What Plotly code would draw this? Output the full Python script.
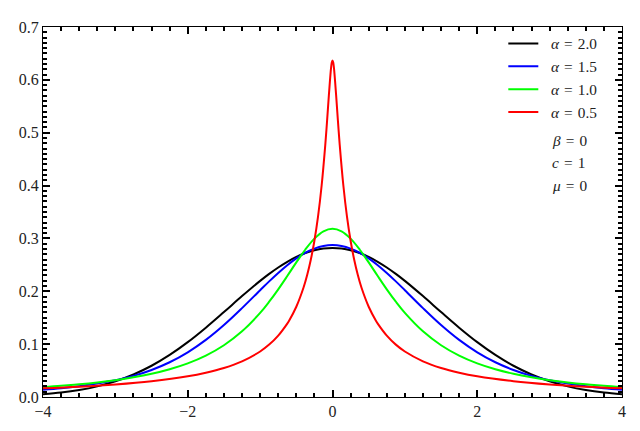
import plotly.graph_objects as go

# Symmetric alpha-stable densities (beta=0, c=1, mu=0)
x_grid = [-4.0, -3.75, -3.5, -3.25, -3.0, -2.75, -2.5, -2.25, -2.0, -1.75, -1.5, -1.25,
          -1.0, -0.875, -0.75, -0.625, -0.5, -0.375, -0.25, -0.125, 0.0, 0.125, 0.25,
          0.375, 0.5, 0.625, 0.75, 0.875, 1.0, 1.25, 1.5, 1.75, 2.0, 2.25, 2.5, 2.75,
          3.0, 3.25, 3.5, 3.75, 4.0]

pdf_a20 = [0.00517, 0.00839, 0.01319, 0.02012, 0.02973, 0.04259, 0.05913, 0.07957, 0.10378,
           0.13118, 0.16073, 0.19087, 0.21969, 0.23295, 0.24508, 0.25584, 0.26500, 0.27234,
           0.27772, 0.28099, 0.28209, 0.28099, 0.27772, 0.27234, 0.26500, 0.25584, 0.24508,
           0.23295, 0.21969, 0.19087, 0.16073, 0.13118, 0.10378, 0.07957, 0.05913, 0.04259,
           0.02973, 0.02012, 0.01319, 0.00839, 0.00517]

pdf_a15 = [0.0138, 0.0167, 0.0205, 0.0255, 0.0318, 0.03997, 0.05115, 0.06577, 0.08454,
           0.10799, 0.13614, 0.16814, 0.20204, 0.21877, 0.23473, 0.24941, 0.26230, 0.27291,
           0.28082, 0.28570, 0.28735, 0.28570, 0.28082, 0.27291, 0.26230, 0.24941, 0.23473,
           0.21877, 0.20204, 0.16814, 0.13614, 0.10799, 0.08454, 0.06577, 0.05115, 0.03997,
           0.0318, 0.0255, 0.0205, 0.0167, 0.0138]

pdf_a10 = [0.01872, 0.02113, 0.02402, 0.02753, 0.03183, 0.03718, 0.04390, 0.05251, 0.06366,
           0.07835, 0.09794, 0.12422, 0.15915, 0.18028, 0.20372, 0.22890, 0.25465, 0.27906,
           0.29959, 0.31341, 0.31831, 0.31341, 0.29959, 0.27906, 0.25465, 0.22890, 0.20372,
           0.18028, 0.15915, 0.12422, 0.09794, 0.07835, 0.06366, 0.05251, 0.04390, 0.03718,
           0.03183, 0.02753, 0.02402, 0.02113, 0.01872]

# alpha = 0.5 needs a finer grid around the sharp peak
x_a05 = [-4.0, -3.5, -3.0, -2.5, -2.0, -1.75, -1.5, -1.25, -1.0, -0.875, -0.75, -0.625,
         -0.6, -0.5, -0.4, -0.35, -0.3, -0.25, -0.2, -0.15, -0.1, -0.075, -0.05, -0.02,
         -0.01, 0.0, 0.01, 0.02, 0.05, 0.075, 0.1, 0.15, 0.2, 0.25, 0.3, 0.35, 0.4, 0.5,
         0.6, 0.625, 0.75, 0.875, 1.0, 1.25, 1.5, 1.75, 2.0, 2.5, 3.0, 3.5, 4.0]
pdf_a05 = [0.0165, 0.0196, 0.0238, 0.0299, 0.0391, 0.0459, 0.0549, 0.0675, 0.0861, 0.0991,
           0.1161, 0.1388, 0.1443, 0.1708, 0.2071, 0.2308, 0.2597, 0.2956, 0.3413, 0.4001,
           0.4766, 0.5223, 0.5711, 0.6226, 0.6329, 0.6366, 0.6329, 0.6226, 0.5711, 0.5223,
           0.4766, 0.4001, 0.3413, 0.2956, 0.2597, 0.2308, 0.2071, 0.1708, 0.1443, 0.1388,
           0.1161, 0.0991, 0.0861, 0.0675, 0.0549, 0.0459, 0.0391, 0.0299, 0.0238, 0.0196,
           0.0165]

sp = "\u2004"  # math-style spacing around '='
lead = "\u2002"  # extra gap between line sample and label
series = [
    (f"{lead}<i>α</i>{sp}={sp}2.0", x_grid, pdf_a20, "black"),
    (f"{lead}<i>α</i>{sp}={sp}1.5", x_grid, pdf_a15, "blue"),
    (f"{lead}<i>α</i>{sp}={sp}1.0", x_grid, pdf_a10, "#00ff00"),
    (f"{lead}<i>α</i>{sp}={sp}0.5", x_a05, pdf_a05, "red"),
]
param_labels = [f"<i>β</i>{sp}={sp}0", f"<i>c</i>{sp}={sp}1", f"<i>μ</i>{sp}={sp}0"]

FONT = "Liberation Serif"

fig = go.Figure()
for name, xs, ys, color in series:
    fig.add_trace(go.Scatter(
        x=xs, y=ys, mode="lines", name=name,
        line=dict(color=color, width=2, shape="spline", smoothing=1),
    ))

# parameter notes continue the legend column as plain text
for i, label in enumerate(param_labels):
    fig.add_annotation(
        text=label, xref="paper", yref="paper", x=0.876, y=0.693 - 0.0605 * i,
        xanchor="left", yanchor="middle", showarrow=False,
        font=dict(family=FONT, size=15.3, color="#222"),
    )

fig.update_xaxes(
    range=[-4, 4], dtick=2, showline=True, linecolor="black", mirror="ticks",
    ticks="inside", ticklen=7, tickwidth=1.5, tickcolor="black",
    minor=dict(dtick=0.25, ticks="inside", ticklen=4, tickcolor="black"),
)
fig.update_yaxes(
    range=[0, 0.7], dtick=0.1, tickformat=".1f", showline=True, linecolor="black",
    mirror="ticks", ticks="inside", ticklen=7, tickwidth=1.5, tickcolor="black",
    minor=dict(dtick=0.01, ticks="inside", ticklen=4, tickcolor="black"),
)

# the page body adds an 8px offset, so margins are shifted to compensate
fig.update_layout(
    width=640, height=431,
    margin=dict(l=32, r=26, t=11, b=42),
    font=dict(family=FONT, size=16, color="#222"),
    plot_bgcolor="white", paper_bgcolor="white",
    legend=dict(
        x=0.795, y=1.0, xanchor="left", yanchor="top",
        bgcolor="rgba(0,0,0,0)", borderwidth=0,
        font=dict(family=FONT, size=15.3, color="#222"),
    ),
)

fig.write_html("out.html")
